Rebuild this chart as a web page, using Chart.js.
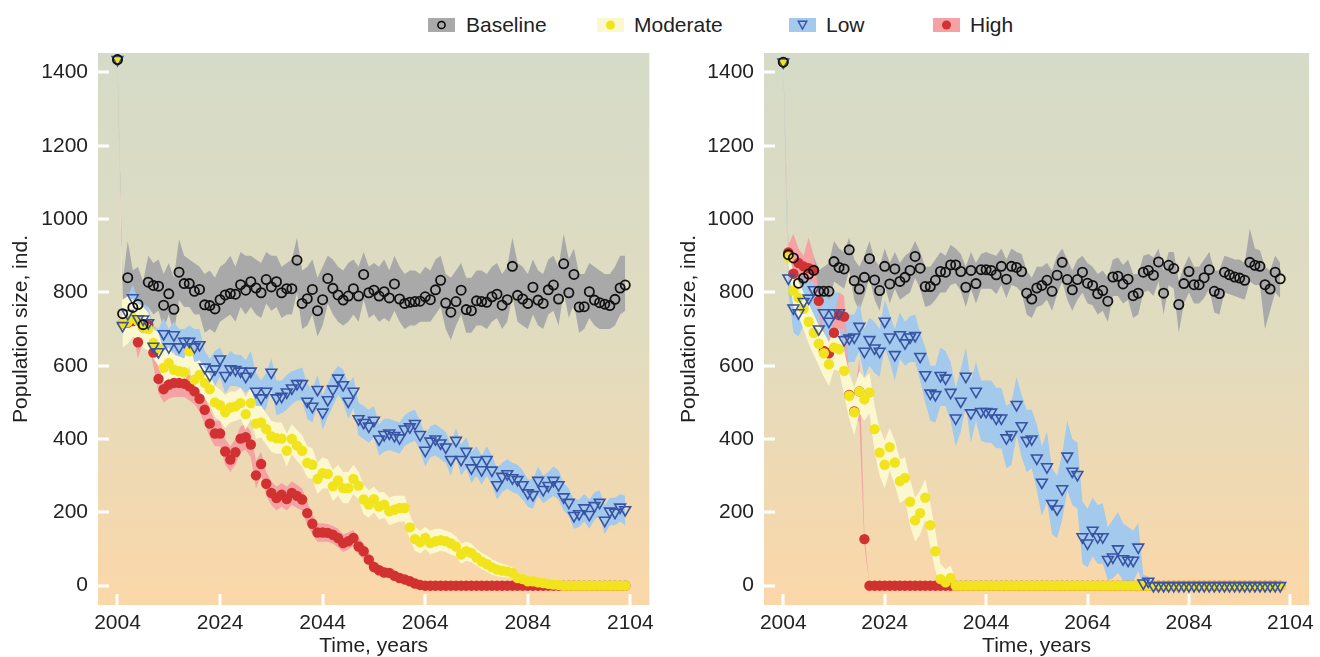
<!DOCTYPE html>
<html>
<head>
<meta charset="utf-8">
<script src="https://cdn.jsdelivr.net/npm/chart.js@4.4.1/dist/chart.umd.min.js"></script>
<style>
  body { margin: 0; background: #fff; width: 1320px; height: 657px; overflow: hidden; position: relative;
         font-family: 'Liberation Sans', Arial, sans-serif; color: #222; }
  canvas { position: absolute; top: 0; }
  #left { left: 0; }
  #right { left: 660px; }
  .key { position: absolute; top: 18px; width: 27px; height: 14px; }
  .key svg { display: block; }
  .lbl { position: absolute; top: 12px; font-size: 21px; line-height: 25px; }
</style>
</head>
<body>
<div class="key" style="left:428px;background:#a9a9a9"><svg width="27" height="14"><circle cx="13.5" cy="7" r="3.6" fill="none" stroke="#000" stroke-width="1.5"/></svg></div>
<div class="lbl" style="left:466px">Baseline</div>
<div class="key" style="left:597px;background:#fbf8cf"><svg width="27" height="14"><circle cx="13.5" cy="7" r="4.5" fill="#f2e41c"/></svg></div>
<div class="lbl" style="left:634px">Moderate</div>
<div class="key" style="left:789px;background:#a3c9ec"><svg width="27" height="14"><path d="M9.2 3.2 L17.8 3.2 L13.5 11 Z" fill="none" stroke="#3853a4" stroke-width="1.4"/></svg></div>
<div class="lbl" style="left:826px">Low</div>
<div class="key" style="left:933px;background:#f4a2a4"><svg width="27" height="14"><circle cx="13.5" cy="7" r="4.5" fill="#d13131"/></svg></div>
<div class="lbl" style="left:970px">High</div>

<canvas id="left" width="660" height="657"></canvas>
<canvas id="right" width="660" height="657"></canvas>

<script>
// ---- axes ----
const years = [
  2004, 2005, 2006, 2007, 2008, 2009, 2010, 2011, 2012, 2013,
  2014, 2015, 2016, 2017, 2018, 2019, 2020, 2021, 2022, 2023,
  2024, 2025, 2026, 2027, 2028, 2029, 2030, 2031, 2032, 2033,
  2034, 2035, 2036, 2037, 2038, 2039, 2040, 2041, 2042, 2043,
  2044, 2045, 2046, 2047, 2048, 2049, 2050, 2051, 2052, 2053,
  2054, 2055, 2056, 2057, 2058, 2059, 2060, 2061, 2062, 2063,
  2064, 2065, 2066, 2067, 2068, 2069, 2070, 2071, 2072, 2073,
  2074, 2075, 2076, 2077, 2078, 2079, 2080, 2081, 2082, 2083,
  2084, 2085, 2086, 2087, 2088, 2089, 2090, 2091, 2092, 2093,
  2094, 2095, 2096, 2097, 2098, 2099, 2100, 2101, 2102, 2103];
const xTicks = [2004, 2024, 2044, 2064, 2084, 2104];
const yTicks = [0, 200, 400, 600, 800, 1000, 1200, 1400];

// ---- left panel ----
const leftBaseline = [
  1435, 742, 840, 759, 767, 712, 828, 819, 817, 765,
  796, 754, 855, 824, 824, 803, 808, 766, 764, 755,
  780, 793, 797, 795, 821, 806, 829, 812, 799, 835,
  815, 829, 799, 810, 810, 888, 770, 783, 808, 750,
  780, 838, 811, 793, 779, 790, 810, 790, 849, 799,
  806, 790, 802, 785, 823, 782, 770, 773, 775, 776,
  788, 780, 807, 833, 771, 746, 775, 806, 753, 750,
  777, 775, 773, 788, 795, 765, 780, 871, 792, 782,
  770, 814, 779, 770, 807, 820, 782, 878, 799, 849,
  760, 761, 802, 779, 772, 768, 764, 781, 812, 820];
const leftBaselineHi = [
  1435, 830, 940, 860, 870, 830, 900, 880, 890, 850,
  880, 840, 945, 900, 890, 880, 870, 850, 860, 840,
  870, 880, 900, 870, 910, 900, 900, 890, 880, 910,
  900, 900, 870, 880, 890, 950, 860, 870, 890, 840,
  870, 900, 890, 870, 860, 880, 890, 870, 910, 870,
  880, 870, 890, 860, 900, 870, 850, 860, 860, 850,
  870, 860, 890, 900, 850, 840, 860, 880, 840, 840,
  860, 860, 850, 870, 880, 850, 870, 950, 880, 870,
  850, 890, 860, 850, 890, 900, 870, 960, 890, 920,
  850, 850, 880, 870, 860, 850, 850, 870, 900, 900];
const leftBaselineLo = [
  1435, 700, 760, 700, 720, 680, 760, 740, 750, 700,
  740, 690, 780, 760, 760, 740, 740, 690, 700, 690,
  720, 730, 740, 720, 760, 740, 760, 740, 730, 770,
  750, 760, 730, 740, 740, 800, 700, 710, 740, 680,
  710, 770, 740, 720, 710, 720, 740, 720, 780, 730,
  740, 720, 730, 720, 750, 720, 700, 710, 710, 720,
  720, 720, 740, 760, 700, 670, 710, 740, 690, 690,
  710, 710, 700, 720, 730, 700, 720, 790, 720, 710,
  700, 740, 710, 700, 740, 750, 710, 800, 730, 770,
  690, 700, 730, 710, 700, 700, 700, 710, 740, 750];

const leftModerate = [
  1435, 715, 720, 730, 722, 705, 700, 662, 648, 594,
  607, 589, 585, 582, 639, 562, 575, 553, 536, 500,
  492, 473, 486, 489, 498, 468, 498, 442, 445, 427,
  407, 402, 401, 368, 400, 382, 368, 335, 330, 291,
  307, 305, 271, 287, 266, 266, 291, 273, 235, 221,
  236, 216, 221, 203, 207, 212, 212, 159, 127, 118,
  130, 116, 121, 124, 121, 115, 107, 85, 94, 89,
  77, 66, 59, 50, 44, 41, 39, 35, 21, 18,
  12, 12, 9, 7, 5, 3, 2, 0, 0, 0,
  0, 0, 0, 0, 0, 0, 0, 0, 0, 0];
const leftModerateHi = [
  1435, 780, 790, 780, 770, 760, 745, 700, 690, 640,
  650, 630, 625, 620, 660, 610, 615, 595, 575, 545,
  535, 520, 530, 530, 540, 515, 540, 490, 490, 470,
  450, 445, 445, 415, 440, 425, 410, 380, 375, 335,
  350, 345, 315, 330, 310, 310, 330, 310, 275, 260,
  270, 255, 255, 240, 245, 245, 245, 195, 160, 150,
  160, 150, 155, 155, 150, 145, 135, 115, 120, 115,
  100, 90, 82, 72, 65, 60, 56, 50, 35, 30,
  22, 20, 15, 12, 9, 6, 4, 2, 0, 0,
  0, 0, 0, 0, 0, 0, 0, 0, 0, 0];
const leftModerateLo = [
  1435, 650, 660, 680, 670, 650, 640, 620, 600, 555,
  565, 550, 545, 545, 600, 520, 530, 510, 495, 460,
  450, 430, 445, 450, 455, 425, 455, 400, 405, 385,
  365, 360, 360, 325, 360, 340, 325, 295, 290, 250,
  265, 265, 230, 245, 225, 225, 250, 235, 195, 185,
  200, 180, 185, 165, 170, 175, 175, 125, 95, 88,
  100, 85, 90, 95, 92, 85, 80, 60, 68, 64,
  55, 45, 38, 30, 26, 24, 22, 20, 8, 6,
  2, 2, 0, 0, 0, 0, 0, 0, 0, 0,
  0, 0, 0, 0, 0, 0, 0, 0, 0, 0];

const leftLow = [
  1435, 709, 742, 785, 728, 727, 717, 653, 638, 687,
  651, 684, 651, 666, 666, 651, 657, 596, 575, 591,
  618, 573, 591, 589, 585, 571, 585, 530, 512, 530,
  582, 512, 516, 528, 539, 551, 551, 503, 489, 535,
  473, 507, 536, 566, 548, 503, 530, 455, 445, 435,
  451, 400, 412, 416, 409, 403, 427, 433, 442, 412,
  369, 394, 400, 389, 378, 344, 396, 344, 366, 321,
  342, 316, 344, 315, 275, 298, 305, 294, 289, 275,
  253, 248, 287, 262, 273, 287, 275, 242, 227, 191,
  196, 212, 194, 218, 227, 178, 203, 200, 214, 207];
const leftLowHi = [
  1435, 760, 790, 820, 780, 770, 760, 710, 700, 730,
  700, 720, 700, 700, 710, 700, 700, 640, 620, 640,
  650, 620, 640, 630, 630, 615, 640, 580, 560, 580,
  620, 560, 560, 575, 585, 590, 595, 550, 535, 575,
  520, 550, 580, 600, 590, 550, 570, 500, 490, 480,
  490, 440, 455, 455, 450, 445, 465, 475, 480, 450,
  410, 435, 440, 430, 420, 385, 430, 385, 405, 365,
  380, 355, 380, 355, 320, 335, 345, 335, 330, 315,
  290, 290, 325, 300, 310, 325, 315, 280, 265, 235,
  235, 250, 235, 255, 260, 220, 240, 240, 250, 245];
const leftLowLo = [
  1435, 660, 690, 740, 680, 680, 670, 600, 590, 640,
  600, 640, 605, 620, 620, 600, 610, 550, 530, 545,
  570, 525, 545, 545, 540, 525, 540, 485, 465, 485,
  535, 465, 470, 480, 495, 505, 505, 455, 445, 490,
  425, 460, 490, 520, 500, 455, 485, 410, 400, 390,
  405, 355, 365, 370, 365, 360, 380, 390, 395, 370,
  325, 350, 355, 345, 335, 300, 350, 300, 320, 280,
  300, 275, 300, 275, 235, 255, 265, 255, 250, 235,
  215, 210, 245, 225, 235, 245, 235, 205, 190, 155,
  160, 175, 155, 180, 190, 140, 165, 165, 175, 165];

const leftHigh = [
  1435, 715, 718, 722, 664, 705, 712, 636, 564, 536,
  548, 553, 553, 551, 544, 530, 510, 480, 442, 415,
  415, 366, 344, 364, 401, 405, 385, 301, 332, 278,
  253, 239, 248, 236, 253, 245, 235, 198, 169, 145,
  145, 144, 139, 130, 116, 121, 130, 107, 94, 71,
  51, 42, 36, 35, 27, 21, 17, 12, 6, 2,
  0, 0, 0, 0, 0, 0, 0, 0, 0, 0,
  0, 0, 0, 0, 0, 0, 0, 0, 0, 0,
  0, 0, 0, 0, 0, 0, 0, 0, 0, 0,
  0, 0, 0, 0, 0, 0, 0, 0, 0, 0];
const leftHighHi = [
  1435, 750, 750, 755, 720, 740, 740, 680, 600, 570,
  580, 585, 585, 580, 575, 565, 545, 520, 480, 450,
  450, 400, 380, 400, 435, 440, 420, 340, 365, 310,
  285, 270, 280, 270, 285, 275, 265, 230, 195, 170,
  170, 168, 163, 155, 140, 145, 152, 130, 115, 90,
  68, 58, 50, 48, 40, 32, 26, 18, 10, 4,
  0, 0, 0, 0, 0, 0, 0, 0, 0, 0,
  0, 0, 0, 0, 0, 0, 0, 0, 0, 0,
  0, 0, 0, 0, 0, 0, 0, 0, 0, 0,
  0, 0, 0, 0, 0, 0, 0, 0, 0, 0];
const leftHighLo = [
  1435, 680, 680, 690, 620, 670, 680, 600, 525, 500,
  510, 515, 515, 515, 505, 495, 475, 440, 405, 380,
  380, 330, 310, 330, 365, 370, 350, 265, 300, 245,
  220, 205, 215, 205, 220, 212, 205, 165, 140, 120,
  120, 120, 115, 105, 92, 98, 108, 85, 72, 52,
  35, 28, 22, 22, 15, 10, 8, 5, 2, 0,
  0, 0, 0, 0, 0, 0, 0, 0, 0, 0,
  0, 0, 0, 0, 0, 0, 0, 0, 0, 0,
  0, 0, 0, 0, 0, 0, 0, 0, 0, 0,
  0, 0, 0, 0, 0, 0, 0, 0, 0, 0];

// ---- right panel (2004-2102) ----
const rightBaseline = [
  1428, 903, 894, 825, 839, 850, 860, 803, 803, 803,
  884, 868, 864, 916, 832, 809, 841, 892, 834, 805,
  871, 823, 864, 830, 841, 860, 898, 866, 816, 816,
  833, 857, 855, 875, 875, 857, 814, 860, 824, 862,
  862, 860, 848, 871, 836, 871, 868, 857, 798, 782,
  812, 819, 833, 803, 847, 882, 835, 807, 835, 855,
  825, 819, 796, 805, 776, 842, 844, 823, 836, 791,
  798, 855, 860, 847, 883, 798, 874, 865, 767, 824,
  857, 821, 821, 840, 862, 803, 797, 855, 848, 842,
  839, 833, 882, 874, 871, 821, 809, 855, 837];
const rightBaselineHi = [
  1428, 930, 930, 880, 890, 900, 900, 860, 870, 880,
  940, 920, 910, 950, 890, 870, 900, 940, 890, 870,
  920, 880, 910, 880, 900, 910, 940, 910, 870, 870,
  890, 910, 900, 930, 920, 905, 870, 910, 880, 905,
  910, 905, 900, 920, 890, 920, 910, 905, 860, 840,
  870, 870, 880, 860, 900, 920, 890, 860, 890, 900,
  880, 870, 850, 860, 840, 890, 895, 875, 890, 850,
  850, 900, 905, 895, 920, 860, 910, 910, 830, 870,
  900, 870, 870, 890, 910, 860, 860, 900, 895, 890,
  890, 880, 975, 920, 915, 870, 860, 900, 880];
const rightBaselineLo = [
  1428, 860, 850, 780, 790, 800, 810, 760, 750, 760,
  830, 820, 810, 860, 780, 750, 790, 840, 780, 750,
  820, 770, 810, 780, 790, 800, 840, 810, 760, 765,
  780, 800, 800, 820, 825, 805, 760, 810, 770, 810,
  810, 810, 795, 820, 785, 820, 815, 800, 740, 730,
  760, 765, 780, 750, 795, 830, 780, 750, 780, 800,
  770, 765, 740, 750, 720, 790, 790, 770, 780, 730,
  740, 800, 805, 790, 830, 740, 820, 810, 690, 770,
  800, 770, 770, 785, 810, 745, 740, 800, 795, 790,
  785, 780, 830, 820, 820, 700, 750, 800, 785];

const rightModerate = [
  1428, 896, 805, 785, 755, 720, 690, 660, 634, 604,
  650, 645, 586, 518, 473, 530, 508, 527, 427, 363,
  330, 378, 336, 285, 294, 229, 178, 198, 240, 165,
  94, 18, 9, 21, 0, 0, 0, 0, 0, 0,
  0, 0, 0, 0, 0, 0, 0, 0, 0, 0,
  0, 0, 0, 0, 0, 0, 0, 0, 0, 0,
  0, 0, 0, 0, 0, 0, 0, 0, 0, 0,
  0, 0, 0, 0, 0, 0, 0, 0, 0, 0,
  0, 0, 0, 0, 0, 0, 0, 0, 0, 0,
  0, 0, 0, 0, 0, 0, 0, 0, 0];
const rightModerateHi = [
  1428, 920, 850, 830, 800, 770, 740, 710, 690, 665,
  700, 700, 640, 580, 540, 585, 565, 580, 490, 430,
  395, 430, 395, 345, 350, 290, 240, 260, 290, 225,
  150, 60, 45, 55, 15, 0, 0, 0, 0, 0,
  0, 0, 0, 0, 0, 0, 0, 0, 0, 0,
  0, 0, 0, 0, 0, 0, 0, 0, 0, 0,
  0, 0, 0, 0, 0, 0, 0, 0, 0, 0,
  0, 0, 0, 0, 0, 0, 0, 0, 0, 0,
  0, 0, 0, 0, 0, 0, 0, 0, 0, 0,
  0, 0, 0, 0, 0, 0, 0, 0, 0];
const rightModerateLo = [
  1428, 870, 760, 735, 700, 660, 630, 600, 570, 545,
  590, 585, 520, 455, 410, 470, 450, 470, 365, 300,
  265, 315, 275, 225, 235, 165, 120, 140, 180, 105,
  40, 0, 0, 0, 0, 0, 0, 0, 0, 0,
  0, 0, 0, 0, 0, 0, 0, 0, 0, 0,
  0, 0, 0, 0, 0, 0, 0, 0, 0, 0,
  0, 0, 0, 0, 0, 0, 0, 0, 0, 0,
  0, 0, 0, 0, 0, 0, 0, 0, 0, 0,
  0, 0, 0, 0, 0, 0, 0, 0, 0, 0,
  0, 0, 0, 0, 0, 0, 0, 0, 0];

const rightLow = [
  1428, 839, 757, 744, 775, 784, 807, 700, 744, 721,
  744, 744, 671, 675, 678, 707, 639, 671, 648, 639,
  721, 678, 630, 684, 662, 678, 682, 625, 575, 525,
  521, 573, 566, 527, 457, 503, 571, 471, 530, 475,
  475, 473, 457, 457, 403, 412, 494, 436, 396, 400,
  348, 282, 324, 224, 209, 264, 353, 312, 303, 133,
  116, 151, 133, 133, 71, 78, 100, 73, 69, 69,
  105, 7, 12, 0, 0, 0, 0, 0, 0, 0,
  0, 0, 0, 0, 0, 0, 0, 0, 0, 0,
  0, 0, 0, 0, 0, 0, 0, 0, 0];
const rightLowHi = [
  1428, 870, 830, 810, 830, 840, 850, 770, 800, 780,
  800, 800, 740, 740, 740, 770, 700, 730, 720, 700,
  780, 740, 700, 745, 720, 735, 740, 690, 650, 600,
  600, 650, 640, 610, 540, 590, 650, 560, 610, 560,
  560, 560, 540, 540, 490, 500, 570, 520, 480, 480,
  440, 380, 420, 320, 300, 360, 450, 400, 390, 230,
  210, 240, 220, 225, 160, 180, 200, 170, 160, 150,
  170, 30, 25, 0, 0, 0, 0, 0, 0, 0,
  0, 0, 0, 0, 0, 0, 0, 0, 0, 0,
  0, 0, 0, 0, 0, 0, 0, 0, 0];
const rightLowLo = [
  1428, 800, 690, 680, 710, 720, 740, 630, 680, 660,
  680, 680, 600, 610, 610, 640, 570, 600, 580, 570,
  650, 610, 560, 620, 600, 610, 610, 560, 500, 450,
  445, 490, 490, 450, 380, 420, 490, 390, 450, 395,
  390, 390, 375, 375, 320, 330, 410, 350, 310, 320,
  260, 190, 230, 140, 130, 180, 260, 220, 210, 60,
  50, 80, 60, 60, 15, 20, 35, 15, 10, 10,
  40, 0, 0, 0, 0, 0, 0, 0, 0, 0,
  0, 0, 0, 0, 0, 0, 0, 0, 0, 0,
  0, 0, 0, 0, 0, 0, 0, 0, 0];

const rightHigh = [
  1428, 909, 851, 880, 871, 866, 862, 777, 640, 634,
  690, 738, 734, 520, 475, 530, 127, 0, 0, 0,
  0, 0, 0, 0, 0, 0, 0, 0, 0, 0,
  0, 0, 0, 0, 0, 0, 0, 0, 0, 0,
  0, 0, 0, 0, 0, 0, 0, 0, 0, 0,
  0, 0, 0, 0, 0, 0, 0, 0, 0, 0,
  0, 0, 0, 0, 0, 0, 0, 0, 0, 0,
  0, 0, 0, 0, 0, 0, 0, 0, 0, 0,
  0, 0, 0, 0, 0, 0, 0, 0, 0, 0,
  0, 0, 0, 0, 0, 0, 0, 0, 0];
const rightHighHi = [
  1428, 930, 960, 920, 900, 950, 900, 800, 680, 670,
  730, 800, 790, 560, 510, 620, 140, 0, 0, 0,
  0, 0, 0, 0, 0, 0, 0, 0, 0, 0,
  0, 0, 0, 0, 0, 0, 0, 0, 0, 0,
  0, 0, 0, 0, 0, 0, 0, 0, 0, 0,
  0, 0, 0, 0, 0, 0, 0, 0, 0, 0,
  0, 0, 0, 0, 0, 0, 0, 0, 0, 0,
  0, 0, 0, 0, 0, 0, 0, 0, 0, 0,
  0, 0, 0, 0, 0, 0, 0, 0, 0, 0,
  0, 0, 0, 0, 0, 0, 0, 0, 0];
const rightHighLo = [
  1428, 890, 800, 850, 845, 830, 830, 750, 600, 600,
  650, 700, 700, 480, 440, 450, 110, 0, 0, 0,
  0, 0, 0, 0, 0, 0, 0, 0, 0, 0,
  0, 0, 0, 0, 0, 0, 0, 0, 0, 0,
  0, 0, 0, 0, 0, 0, 0, 0, 0, 0,
  0, 0, 0, 0, 0, 0, 0, 0, 0, 0,
  0, 0, 0, 0, 0, 0, 0, 0, 0, 0,
  0, 0, 0, 0, 0, 0, 0, 0, 0, 0,
  0, 0, 0, 0, 0, 0, 0, 0, 0, 0,
  0, 0, 0, 0, 0, 0, 0, 0, 0];

Chart.defaults.font.family = "'Liberation Sans', Arial, sans-serif";
Chart.defaults.font.size = 21;
Chart.defaults.color = "#222";

const pts = vals => vals.map((v, i) => ({ x: years[i], y: v }));

// band colour, marker look, draw order (lower = on top)
const looks = {
  baseline: { band: "#a9a9a9", style: "circle", r: 4.6, fill: "rgba(0,0,0,0)", line: "#111", bw: 1.8, rot: 0, ord: 1, bandOrd: 8 },
  low:      { band: "#a3c9ec", style: "triangle", r: 6.2, fill: "rgba(0,0,0,0)", line: "#3853a4", bw: 1.6, rot: 180, ord: 2, bandOrd: 7 },
  moderate: { band: "#fbf8cf", style: "circle", r: 5.2, fill: "#f2e41c", line: "#f2e41c", bw: 0, rot: 0, ord: 3, bandOrd: 5 },
  high:     { band: "#f4a2a4", style: "circle", r: 5.2, fill: "#d13131", line: "#d13131", bw: 0, rot: 0, ord: 4, bandOrd: 6 }
};

function seriesSets(key, vals, hi, lo) {
  const k = looks[key];
  return [
    { data: pts(hi), borderWidth: 0, pointRadius: 0, fill: false, order: k.bandOrd },
    { data: pts(lo), borderWidth: 0, pointRadius: 0, fill: "-1", backgroundColor: k.band, order: k.bandOrd },
    { data: pts(vals), showLine: false, pointStyle: k.style, pointRadius: k.r, pointRotation: k.rot,
      pointBackgroundColor: k.fill, pointBorderColor: k.line, pointBorderWidth: k.bw, order: k.ord }
  ];
}

const panelBg = {
  id: "panelBg",
  beforeDraw(chart) {
    const { ctx, chartArea: a } = chart;
    const g = ctx.createLinearGradient(0, a.top, 0, a.bottom);
    g.addColorStop(0, "#d5dbc8");
    g.addColorStop(0.5, "#e0dcc0");
    g.addColorStop(1, "#fbd7a8");
    ctx.save();
    ctx.fillStyle = g;
    ctx.fillRect(a.left, a.top, a.right - a.left, a.bottom - a.top);
    ctx.restore();
  },
  // white tick marks inside the panel
  beforeDatasetsDraw(chart) {
    const { ctx, chartArea: a, scales: { x, y } } = chart;
    ctx.save();
    ctx.strokeStyle = "#fff";
    ctx.lineWidth = 3;
    ctx.beginPath();
    x.ticks.forEach(t => {
      const px = Math.round(x.getPixelForValue(t.value));
      ctx.moveTo(px, a.bottom); ctx.lineTo(px, a.bottom - 11);
    });
    y.ticks.forEach(t => {
      const py = Math.round(y.getPixelForValue(t.value));
      ctx.moveTo(a.left, py); ctx.lineTo(a.left + 11, py);
    });
    ctx.stroke();
    ctx.restore();
  }
};

function makePanel(canvas, sets, axisW, titlePad, padRight) {
  return new Chart(canvas, {
    type: "line",
    data: { datasets: sets },
    options: {
      responsive: false,
      animation: false,
      devicePixelRatio: 1,
      layout: { padding: { top: 53, right: padRight, left: 0, bottom: 0 } },
      plugins: { legend: { display: false }, tooltip: { enabled: false } },
      elements: { line: { tension: 0 } },
      scales: {
        x: {
          type: "linear", min: 2000.2, max: 2107.7,
          grid: { display: false, drawTicks: false }, border: { display: false },
          afterBuildTicks: s => { s.ticks = xTicks.map(v => ({ value: v })); },
          afterFit: s => { s.height = 52; },
          ticks: { padding: 6, maxRotation: 0, autoSkip: false, callback: v => String(v) },
          title: { display: true, text: "Time, years", padding: { top: 0, bottom: -2 } }
        },
        y: {
          min: -52.7, max: 1453,
          grid: { display: false, drawTicks: false }, border: { display: false },
          afterBuildTicks: s => { s.ticks = yTicks.map(v => ({ value: v })); },
          afterFit: s => { s.width = axisW; },
          ticks: { padding: 10, callback: v => String(v) },
          title: { display: true, text: "Population size, ind.", padding: { top: titlePad, bottom: 0 } }
        }
      }
    },
    plugins: [panelBg]
  });
}

const leftSets = [
  ...seriesSets("baseline", leftBaseline, leftBaselineHi, leftBaselineLo),
  ...seriesSets("moderate", leftModerate, leftModerateHi, leftModerateLo),
  ...seriesSets("low", leftLow, leftLowHi, leftLowLo),
  ...seriesSets("high", leftHigh, leftHighHi, leftHighLo)
];
const rightSets = [
  ...seriesSets("baseline", rightBaseline, rightBaselineHi, rightBaselineLo),
  ...seriesSets("moderate", rightModerate, rightModerateHi, rightModerateLo),
  ...seriesSets("low", rightLow, rightLowHi, rightLowLo),
  ...seriesSets("high", rightHigh, rightHighHi, rightHighLo)
];

makePanel(document.getElementById("left"), leftSets, 98, 9, 8);
makePanel(document.getElementById("right"), rightSets, 104, 17, 3);
</script>
</body>
</html>
